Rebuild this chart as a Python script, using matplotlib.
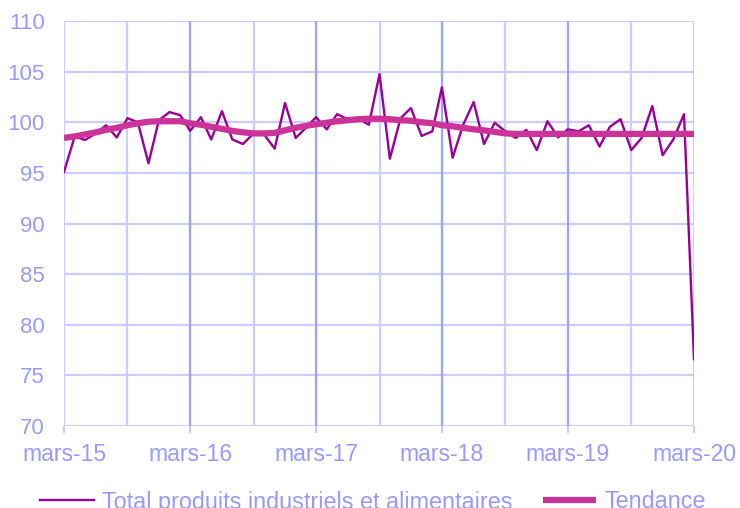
import numpy as np
import pandas as pd
import matplotlib
matplotlib.use("Agg")
import matplotlib.pyplot as plt
import matplotlib.dates as mdates

plt.rcParams["font.family"] = ["Liberation Sans", "DejaVu Sans"]

# monthly series, mars-15 .. mars-20
dates = pd.date_range("2015-03-01", "2020-03-01", freq="MS")

total = [
    95.1, 98.6, 98.25, 98.9, 99.7, 98.5, 100.4, 100.0, 95.95, 100.2,
    101.0, 100.7, 99.15, 100.5, 98.3, 101.1, 98.3, 97.85, 98.9, 98.8,
    97.4, 101.9, 98.45, 99.5, 100.5, 99.3, 100.8, 100.3, 100.4, 99.75,
    104.75, 96.4, 100.4, 101.4, 98.65, 99.1, 103.45, 96.5, 99.7, 102.0,
    97.85, 99.95, 99.1, 98.45, 99.25, 97.25, 100.1, 98.5, 99.3, 99.1,
    99.7, 97.6, 99.55, 100.3, 97.25, 98.45, 101.6, 96.75, 98.3, 100.8,
    76.6,
]

tendance = [
    98.45, 98.6, 98.8, 99.0, 99.25, 99.45, 99.7, 99.9, 100.05, 100.1,
    100.1, 100.1, 99.9, 99.75, 99.55, 99.35, 99.15, 99.0, 98.9, 98.9,
    98.95, 99.2, 99.45, 99.65, 99.8, 99.95, 100.1, 100.2, 100.3, 100.35,
    100.35, 100.3, 100.2, 100.15, 100.0, 99.9, 99.7, 99.6, 99.45, 99.3,
    99.2, 99.05, 98.9, 98.85, 98.85, 98.85, 98.85, 98.85, 98.85, 98.85,
    98.85, 98.85, 98.85, 98.85, 98.85, 98.85, 98.85, 98.85, 98.85, 98.85,
    98.85,
]

xlabels = ["mars-15", "mars-16", "mars-17", "mars-18", "mars-19", "mars-20"]
label_total = "Total produits industriels et alimentaires"
label_trend = "Tendance"

txt_col = "#9999ff"
grid_col = "#ccccff"
year_col = "#a0a0ff"

fig = plt.figure(figsize=(7.4, 5.08), dpi=100)
ax = fig.add_axes([64 / 740, 1 - 426 / 508, 630 / 740, 405 / 508])

# grid: horizontal every 5, vertical every 6 months (year lines a bit darker)
for y in range(70, 111, 5):
    ax.axhline(y, color=grid_col, lw=1.6, zorder=1)
half_years = pd.date_range("2015-03-01", "2020-03-01", freq="6MS")
for d in half_years:
    col = year_col if (d.month == 3 and d != dates[0] and d != dates[-1]) else grid_col
    ax.axvline(d, color=col, lw=1.6, zorder=1)

ax.plot(dates, total, color="#990099", lw=1.7, zorder=3, label=label_total)
ax.plot(dates, tendance, color="#cc3399", lw=4.5, zorder=4, label=label_trend,
        solid_capstyle="butt")

ax.set_ylim(70, 110)
ax.set_xlim(dates[0], dates[-1])
ax.set_yticks(range(70, 111, 5))
ax.set_xticks(pd.date_range("2015-03-01", "2020-03-01", freq="12MS"))
ax.set_xticklabels(xlabels)

for s in ax.spines.values():
    s.set_visible(False)
ax.tick_params(axis="x", colors=grid_col, length=5, width=1.6, pad=7,
               labelsize=16.5, labelcolor=txt_col)
ax.tick_params(axis="y", length=0, pad=14, labelsize=16, labelcolor=txt_col)

leg = fig.legend(loc="center", bbox_to_anchor=(373 / 740, 1 - 502 / 508), ncol=2,
                 frameon=False, fontsize=16.8, handlelength=2.3, handletextpad=0.35,
                 columnspacing=1.3, borderpad=0, borderaxespad=0)
for t in leg.get_texts():
    t.set_color(txt_col)

fig.savefig("out.png", dpi=100)
